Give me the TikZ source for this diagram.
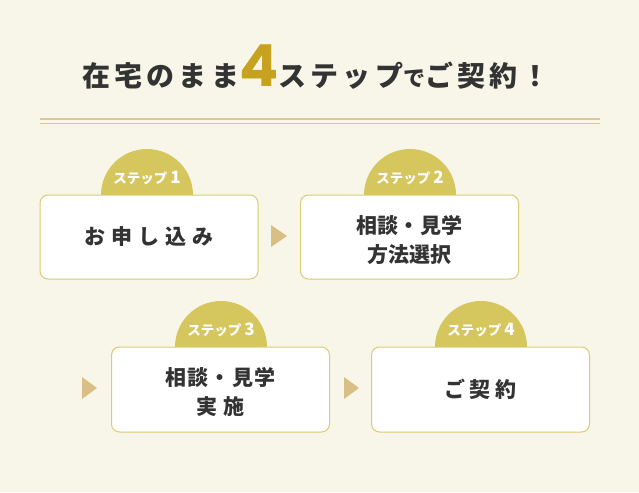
\documentclass[tikz,border=0pt]{standalone}
\usepackage{fontspec}
\newfontfamily\jp{Noto Sans CJK JP}
\newfontfamily\jpwide{Noto Sans CJK JP}[LetterSpace=28]
\newfontfamily\jpfour{Noto Sans CJK JP}[LetterSpace=22]
\newfontfamily\jpmid{Noto Sans CJK JP}[LetterSpace=1]
\newfontfamily\jpmidb{Noto Sans CJK JP}[LetterSpace=6]
\newfontfamily\jptitle{Noto Sans CJK JP}[LetterSpace=15]
\newfontfamily\numfont{Poppins}
\definecolor{bgc}{HTML}{F8F6E9}
\definecolor{tabc}{HTML}{D6C65E}
\definecolor{boxline}{HTML}{DCCB73}
\definecolor{arrc}{HTML}{D9BF86}
\definecolor{rulec}{HTML}{DCC896}
\definecolor{txt}{HTML}{333333}
\definecolor{gold}{HTML}{C6A21E}
\tikzset{
  box/.style={draw=boxline, line width=1pt, fill=white, rounded corners=8pt,
    minimum width=218pt, minimum height=84pt, align=center, text=txt,
    font=\jp\bfseries\fontsize{21}{29}\selectfont},
  tablabel/.style={text=white, font=\jp\bfseries\fontsize{13.5}{15}\selectfont},
  tri/.style={fill=arrc},
}
\begin{document}
\begin{tikzpicture}[x=1pt,y=-1pt]
\fill[bgc] (0,0) rectangle (639,492);
\useasboundingbox (0,0) rectangle (639,492);
% title
\node[anchor=base, text=txt, inner sep=0pt] (title) at (316,87) {\jptitle\bfseries\fontsize{28}{30}\selectfont 在宅のまま{\numfont\bfseries\fontsize{58}{58}\selectfont\color{gold}4}ステップ{\fontsize{22}{24}\selectfont で}ご契約！};
% rules
\draw[rulec, line width=2pt] (40,119.3) -- (600,119.3);
\draw[rulec, line width=0.8pt] (40,123.5) -- (600,123.5);
% tabs
\foreach \cx/\cy in {147/195, 410/195, 221/347, 481/347}{
  \fill[tabc] (\cx-46,\cy) arc[start angle=180, end angle=360, radius=46] -- cycle;
}
\node[tablabel] (t1) at (147,178) {ステップ {\fontsize{17}{17}\selectfont 1}};
\node[tablabel] (t2) at (410,178) {ステップ {\fontsize{17}{17}\selectfont 2}};
\node[tablabel] (t3) at (221,330) {ステップ {\fontsize{17}{17}\selectfont 3}};
\node[tablabel] (t4) at (481,330) {ステップ {\fontsize{17}{17}\selectfont 4}};
% boxes
\node[box] (b1) at (149,237) {\jpwide お申し込み};
\node[box] (b2) at (409.5,237) {};
\node[text=txt, align=center, font=\jp\bfseries\fontsize{21}{29}\selectfont] (b2t) at (409.5,240) {\jpmid 相談・見学\\\jpmid 方法選択};
\node[box, minimum height=85pt] (b3) at (220.5,389.5) {};
\node[text=txt, align=center, font=\jp\bfseries\fontsize{21}{29}\selectfont] (b3t) at (220.5,392) {\jpmidb 相談・見学\\\jpwide 実施};
\node[box, minimum height=85pt] (b4) at (480.5,389.5) {\jpfour ご契約};
% arrows
\fill[tri] (271,225) -- (287,236) -- (271,247) -- cycle;
\fill[tri] (82,377) -- (97,388) -- (82,399) -- cycle;
\fill[tri] (344,377) -- (359,388) -- (344,399) -- cycle;
\end{tikzpicture}
\end{document}
